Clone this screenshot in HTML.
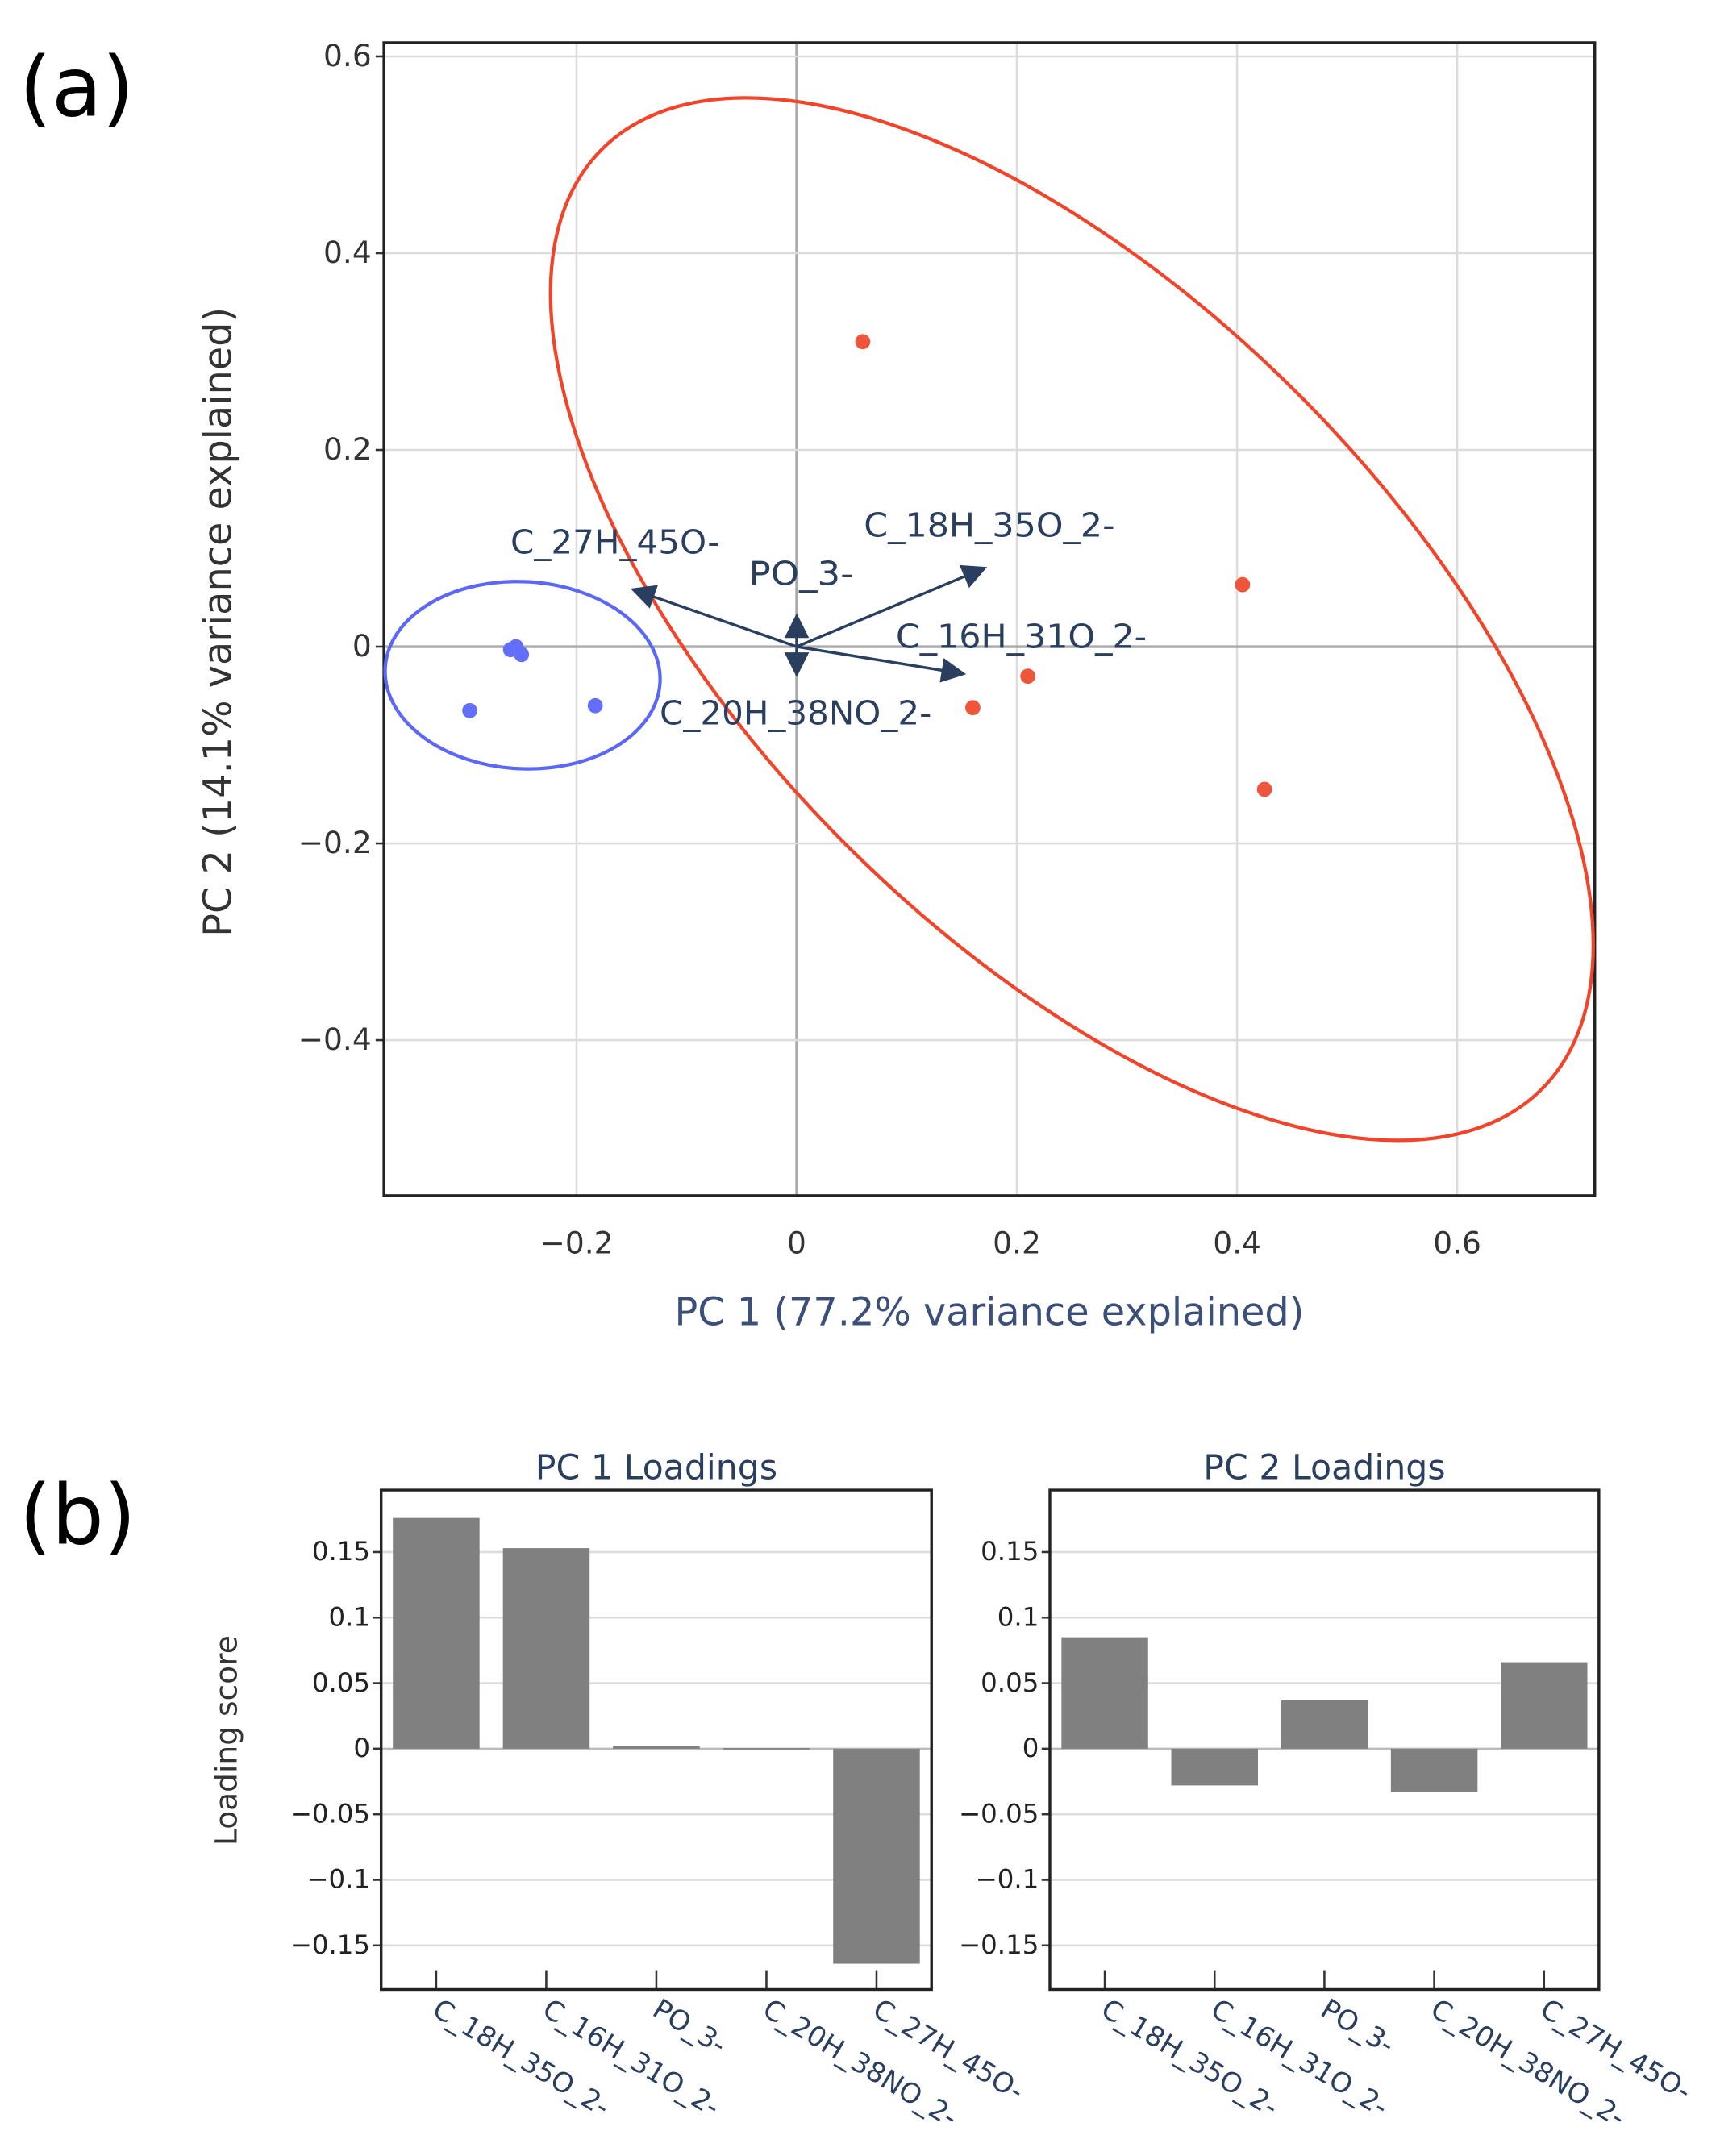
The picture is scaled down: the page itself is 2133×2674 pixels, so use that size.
<!DOCTYPE html>
<html><head><meta charset="utf-8"><style>
html,body{margin:0;padding:0;background:#fff;}
svg{display:block;}
text{font-family:"DejaVu Sans","Liberation Sans",sans-serif;}
</style></head><body>
<svg id="fig" width="2133" height="2674" viewBox="0 0 1250 1567" xmlns="http://www.w3.org/2000/svg">
<rect x="0" y="0" width="1250" height="1567" fill="#fff"/>
<text x="14" y="84" font-size="60" fill="#000" font-family="Liberation Sans, sans-serif">(a)</text>
<text x="14" y="1122" font-size="60" fill="#000" font-family="Liberation Sans, sans-serif">(b)</text>
<g id="pa"></g>
<g id="pb1"></g>
<g id="pb2"></g>
</svg>
<script>
// ---- data ----
const redX = [0.06, 0.405, 0.21, 0.16, 0.425];
const redY = [0.31, 0.063, -0.03, -0.062, -0.145];
const blueX = [-0.26, -0.255, -0.25, -0.297, -0.183];
const blueY = [-0.003, 0.0, -0.008, -0.065, -0.06];
const loadNames = ["C_27H_45O-", "PO_3-", "PO_3-", "C_18H_35O_2-", "C_16H_31O_2-"];
const loadX = [-0.151, 0.0, 0.0, 0.173, 0.154];
const loadY = [0.059, 0.034, -0.031, 0.081, -0.028];
const arrowLabels = ["C_27H_45O-", "PO_3-", "C_18H_35O_2-", "C_16H_31O_2-", "C_20H_38NO_2-"];
const arrowLabelX = [-0.165, 0.004, 0.175, 0.204, -0.001];
const arrowLabelY = [0.106, 0.074, 0.123, 0.01, -0.068];
const xTicks = [-0.2, 0, 0.2, 0.4, 0.6];
const xTickLabels = ["\u22120.2", "0", "0.2", "0.4", "0.6"];
const yTicks = [-0.4, -0.2, 0, 0.2, 0.4, 0.6];
const yTickLabels = ["\u22120.4", "\u22120.2", "0", "0.2", "0.4", "0.6"];
const redEllipse = [0.25, 0.028, 483, 232, 45];   // cx, cy (data), rx, ry (px), angle
const blueEllipse = [-0.249, -0.029, 100, 68, 3];
const categories = ["C_18H_35O_2-", "C_16H_31O_2-", "PO_3-", "C_20H_38NO_2-", "C_27H_45O-"];
const pc1Values = [0.176, 0.153, 0.002, 0.0005, -0.164];
const pc2Values = [0.085, -0.028, 0.037, -0.033, 0.066];
const barTicks = [-0.15, -0.1, -0.05, 0, 0.05, 0.1, 0.15];
const barTickLabels = ["\u22120.15", "\u22120.1", "\u22120.05", "0", "0.05", "0.1", "0.15"];

const NS = "http://www.w3.org/2000/svg";
function mk(parent, tag, attrs, txt) {
  const e = document.createElementNS(NS, tag);
  for (const k in attrs) e.setAttribute(k, attrs[k]);
  if (txt !== undefined) e.textContent = txt;
  parent.appendChild(e);
  return e;
}
const TXT = "#2a3f5f";

// ---- panel a ----
const pa = document.getElementById('pa');
const L = 279, R = 1159, T = 31, B = 869;
const sx = v => 579 + v * 800;
const sy = v => 470 - v * 715;
for (let i = 0; i < xTicks.length; i++) {
  const g = mk(pa, 'line', {x1: sx(xTicks[i]), x2: sx(xTicks[i]), y1: T, y2: B, stroke: xTicks[i] === 0 ? '#aaa' : '#dcdcdc', 'stroke-width': xTicks[i] === 0 ? 2 : 1.5});
  
  
  const t = mk(pa, 'text', {x: sx(xTicks[i]), y: 911, 'font-size': 22, fill: '#333', 'text-anchor': 'middle'}, xTickLabels[i]);
  
  
}
for (let i = 0; i < yTicks.length; i++) {
  const g = mk(pa, 'line', {x1: L, x2: R, y1: sy(yTicks[i]), y2: sy(yTicks[i]), stroke: yTicks[i] === 0 ? '#aaa' : '#dcdcdc', 'stroke-width': yTicks[i] === 0 ? 2 : 1.5});
  
  
  const tk = mk(pa, 'line', {x1: L - 6, x2: L, y1: sy(yTicks[i]), y2: sy(yTicks[i]), stroke: '#333', 'stroke-width': 1.5});
  
  
  const t = mk(pa, 'text', {x: L - 9, y: sy(yTicks[i]) + 7, 'font-size': 22, fill: '#333', 'text-anchor': 'end'}, yTickLabels[i]);
  
  
}
const fr = mk(pa, 'rect', {x: L, y: T, width: R - L, height: B - T, fill: 'none', stroke: '#222', 'stroke-width': 2});



const re = mk(pa, 'ellipse', {cx: 0, cy: 0, rx: redEllipse[2], ry: redEllipse[3], fill: 'none', stroke: '#f0452b', 'stroke-width': 2.5, transform: `translate(${sx(redEllipse[0])},${sy(redEllipse[1])}) rotate(${redEllipse[4]})`});


const be = mk(pa, 'ellipse', {cx: 0, cy: 0, rx: blueEllipse[2], ry: blueEllipse[3], fill: 'none', stroke: '#5b67f5', 'stroke-width': 2.5, transform: `translate(${sx(blueEllipse[0])},${sy(blueEllipse[1])}) rotate(${blueEllipse[4]})`});



for (let i = 0; i < redX.length; i++) {
  const c = mk(pa, 'circle', {cx: sx(redX[i]), cy: sy(redY[i]), r: 5.5, fill: '#ef553b'});
  
  
}
for (let i = 0; i < blueX.length; i++) {
  const c = mk(pa, 'circle', {cx: sx(blueX[i]), cy: sy(blueY[i]), r: 5.5, fill: '#636efa'});
  
  
}
for (let i = 0; i < loadX.length; i++) {
  const x0 = sx(0), y0 = sy(0), x1 = sx(loadX[i]), y1 = sy(loadY[i]);
  const ang = Math.atan2(y1 - y0, x1 - x0);
  const len = Math.hypot(x1 - x0, y1 - y0);
  const ln = mk(pa, 'line', {x1: x0, y1: y0, x2: x0 + Math.cos(ang) * (len - 8), y2: y0 + Math.sin(ang) * (len - 8), stroke: '#2a3f5f', 'stroke-width': 2});
  
  
  const h = 18, w = 9;
  const bx = x1 - Math.cos(ang) * h, by = y1 - Math.sin(ang) * h;
  const pts = `${x1},${y1} ${bx - Math.sin(ang) * w},${by + Math.cos(ang) * w} ${bx + Math.sin(ang) * w},${by - Math.cos(ang) * w}`;
  const hd = mk(pa, 'polygon', {points: pts, fill: '#2a3f5f'});
  
  
}
for (let i = 0; i < arrowLabels.length; i++) {
  const t = mk(pa, 'text', {x: sx(arrowLabelX[i]), y: sy(arrowLabelY[i]) + 8, 'font-size': 24, fill: TXT, 'text-anchor': 'middle', textLength: arrowLabels[i].length * 15.2, lengthAdjust: 'spacingAndGlyphs'}, arrowLabels[i]);
  
  
}
const xt = mk(pa, 'text', {x: 719, y: 963, 'font-size': 28, fill: '#3b4f7a', 'text-anchor': 'middle'}, 'PC 1 (77.2% variance explained)');


const yt = mk(pa, 'text', {x: 0, y: 0, 'font-size': 28, fill: '#333', 'text-anchor': 'middle', transform: 'translate(168,452) rotate(-90)'}, 'PC 2 (14.1% variance explained)');



// ---- panel b ----
function barChart(g, left, right, vals, title) {
  const top = 1083, bot = 1446;
  const by = v => 1271 - v * 953;
  const band = (right - left) / categories.length;
  for (let i = 0; i < barTicks.length; i++) {
    const gl = mk(g, 'line', {x1: left, x2: right, y1: by(barTicks[i]), y2: by(barTicks[i]), stroke: barTicks[i] === 0 ? '#bbb' : '#dcdcdc', 'stroke-width': 1.5});
    
    
    const tk = mk(g, 'line', {x1: left - 6, x2: left, y1: by(barTicks[i]), y2: by(barTicks[i]), stroke: '#333', 'stroke-width': 1.5});
    
    
    const t = mk(g, 'text', {x: left - 8, y: by(barTicks[i]) + 6, 'font-size': 19, fill: '#222', 'text-anchor': 'end'}, barTickLabels[i]);
    
    
  }
  for (let i = 0; i < vals.length; i++) {
    const cx = left + band * (i + 0.5);
    const y1 = by(Math.max(vals[i], 0)), y2 = by(Math.min(vals[i], 0));
    const r = mk(g, 'rect', {x: cx - 31.5, y: y1, width: 63, height: Math.max(y2 - y1, 1), fill: '#808080'});
    
    
    const tk = mk(g, 'line', {x1: cx, x2: cx, y1: bot - 14, y2: bot, stroke: '#333', 'stroke-width': 1.5});
    
    
    const t = mk(g, 'text', {x: 0, y: 0, 'font-size': 20, fill: TXT, transform: `translate(${cx - 4},${bot + 18}) rotate(31)`}, categories[i]);
    
    
  }
  const f = mk(g, 'rect', {x: left, y: top, width: right - left, height: bot - top, fill: 'none', stroke: '#222', 'stroke-width': 2});
  
  
  const tt = mk(g, 'text', {x: (left + right) / 2, y: 1075, 'font-size': 25, fill: TXT, 'text-anchor': 'middle'}, title);
  
  
}
barChart(document.getElementById('pb1'), 277, 677, pc1Values, 'PC 1 Loadings');
barChart(document.getElementById('pb2'), 763, 1162, pc2Values, 'PC 2 Loadings');
const ls = mk(document.getElementById('pb1'), 'text', {x: 0, y: 0, 'font-size': 22, fill: '#333', 'text-anchor': 'middle', transform: 'translate(172,1265) rotate(-90)'}, 'Loading score');


</script>
</body></html>
